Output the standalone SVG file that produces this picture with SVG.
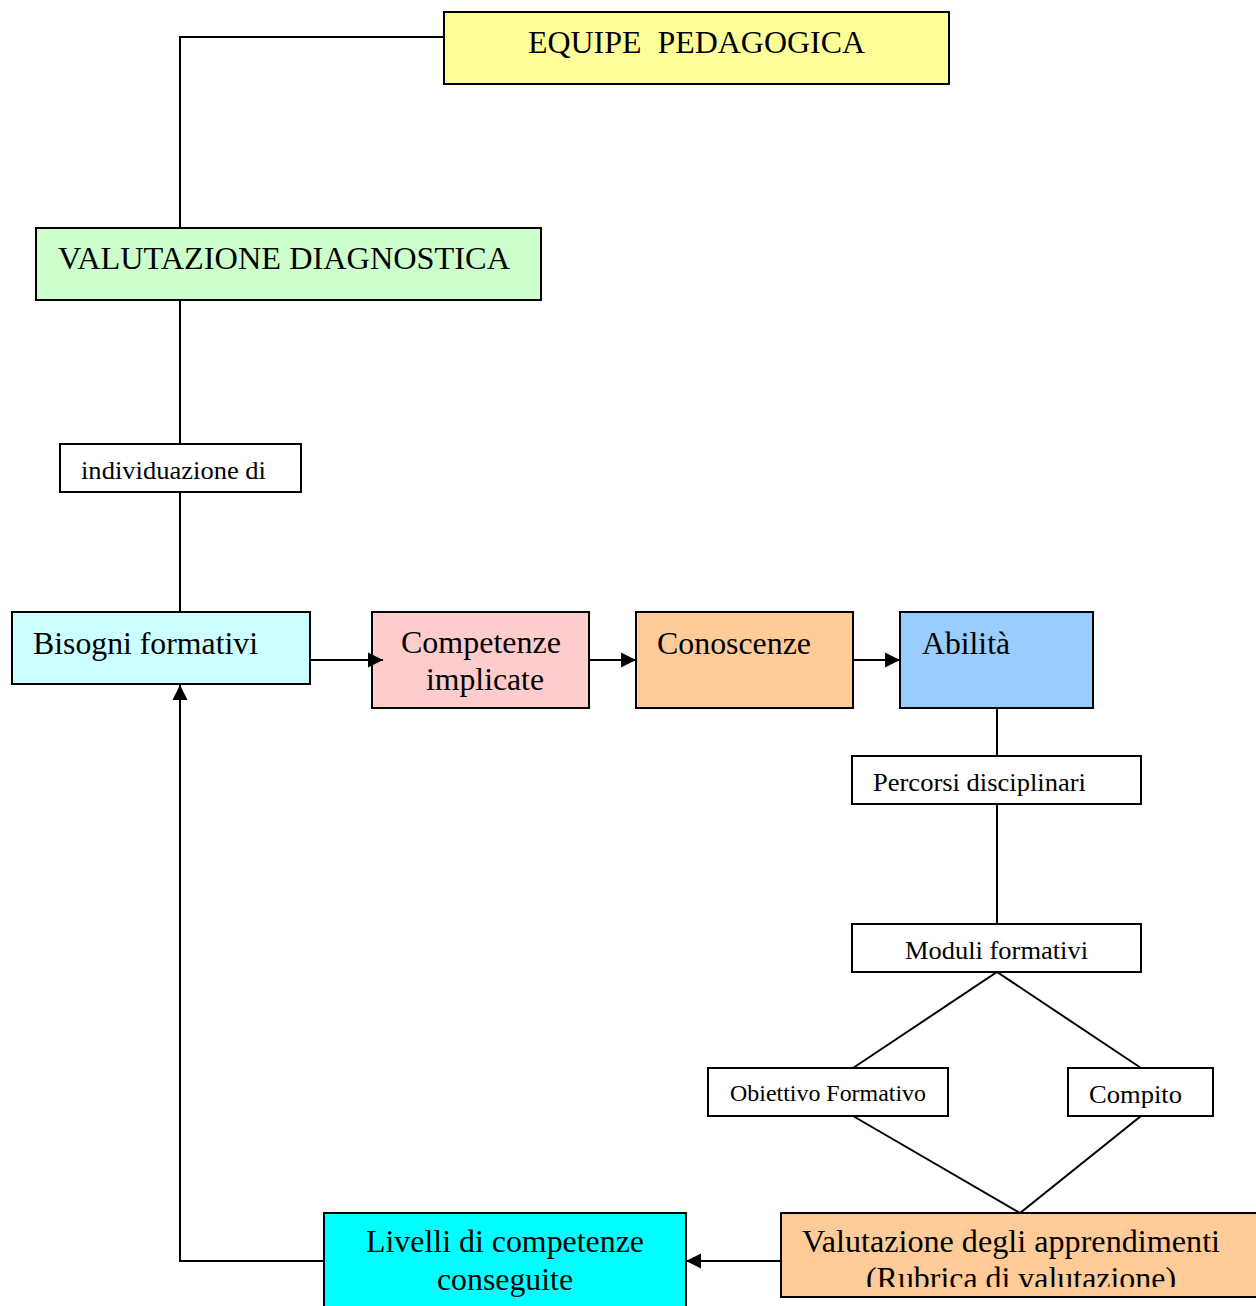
<svg xmlns="http://www.w3.org/2000/svg" width="1256" height="1306" viewBox="0 0 1256 1306">
<style>
.box{stroke:#000;stroke-width:2}
.w{fill:#fff}
.t{font-family:"Liberation Serif","Times New Roman",serif;fill:#000;white-space:pre}
.big{font-size:32px}
.sm{font-size:26px}
.xs{font-size:24px}
.c{fill:none;stroke:#000;stroke-width:2}
</style>
<defs>
<marker id="ah" markerWidth="16" markerHeight="16" refX="15" refY="8" orient="auto" markerUnits="userSpaceOnUse">
<path d="M0,0.5 L15,8 L0,15.5 Z" fill="#000"/>
</marker>
<clipPath id="clipR"><rect x="781" y="1213" width="480" height="74"/></clipPath>
</defs>
<rect width="1256" height="1306" fill="#fff"/>
<g id="equipe">
<rect class="box" x="444" y="12" width="505" height="72" fill="#ffff99"/>
<text class="t big" x="528" y="53" textLength="337" lengthAdjust="spacingAndGlyphs" xml:space="preserve">EQUIPE  PEDAGOGICA</text>
</g>
<g id="valutazione-diagnostica">
<rect class="box" x="36" y="228" width="505" height="72" fill="#ccffcc"/>
<text class="t big" x="58" y="269" textLength="452" lengthAdjust="spacingAndGlyphs">VALUTAZIONE DIAGNOSTICA</text>
</g>
<g id="individuazione">
<rect class="box w" x="60" y="444" width="241" height="48"/>
<text class="t sm" x="81" y="479" textLength="185" lengthAdjust="spacingAndGlyphs">individuazione di</text>
</g>
<g id="bisogni">
<rect class="box" x="12" y="612" width="298" height="72" fill="#ccffff"/>
<text class="t big" x="33" y="654" textLength="225" lengthAdjust="spacingAndGlyphs">Bisogni formativi</text>
</g>
<g id="competenze">
<rect class="box" x="372" y="612" width="217" height="96" fill="#ffcccc"/>
<text class="t big" x="401" y="653" textLength="160" lengthAdjust="spacingAndGlyphs">Competenze</text>
<text class="t big" x="426" y="690" textLength="118" lengthAdjust="spacingAndGlyphs">implicate</text>
</g>
<g id="conoscenze">
<rect class="box" x="636" y="612" width="217" height="96" fill="#ffcc99"/>
<text class="t big" x="657" y="654" textLength="154" lengthAdjust="spacingAndGlyphs">Conoscenze</text>
</g>
<g id="abilita">
<rect class="box" x="900" y="612" width="193" height="96" fill="#99ccff"/>
<text class="t big" x="922" y="654" textLength="88" lengthAdjust="spacingAndGlyphs">Abilità</text>
</g>
<g id="percorsi">
<rect class="box w" x="852" y="756" width="289" height="48"/>
<text class="t sm" x="873" y="791" textLength="213" lengthAdjust="spacingAndGlyphs">Percorsi disciplinari</text>
</g>
<g id="moduli">
<rect class="box w" x="852" y="924" width="289" height="48"/>
<text class="t sm" x="905" y="959" textLength="183" lengthAdjust="spacingAndGlyphs">Moduli formativi</text>
</g>
<g id="obiettivo">
<rect class="box w" x="708" y="1068" width="240" height="48"/>
<text class="t xs" x="730" y="1101" textLength="196" lengthAdjust="spacingAndGlyphs">Obiettivo Formativo</text>
</g>
<g id="compito">
<rect class="box w" x="1068" y="1068" width="145" height="48"/>
<text class="t sm" x="1089" y="1103" textLength="93" lengthAdjust="spacingAndGlyphs">Compito</text>
</g>
<g id="valutazione-apprendimenti">
<rect class="box" x="781" y="1213" width="482" height="84" fill="#ffcc99"/>
<text class="t big" x="802" y="1252" textLength="418" lengthAdjust="spacingAndGlyphs">Valutazione degli apprendimenti</text>
<text class="t big" x="866" y="1289" textLength="310" lengthAdjust="spacingAndGlyphs" clip-path="url(#clipR)">(Rubrica di valutazione)</text>
</g>
<g id="livelli">
<rect class="box" x="324" y="1213" width="362" height="100" fill="#00ffff"/>
<text class="t big" x="366" y="1252" textLength="278" lengthAdjust="spacingAndGlyphs">Livelli di competenze</text>
<text class="t big" x="437" y="1290" textLength="136" lengthAdjust="spacingAndGlyphs">conseguite</text>
</g>
<g id="connectors">
<polyline class="c" points="444,37 180,37 180,228"/>
<line class="c" x1="180" y1="300" x2="180" y2="444"/>
<line class="c" x1="180" y1="492" x2="180" y2="612"/>
<line class="c" x1="310" y1="660" x2="383" y2="660" marker-end="url(#ah)"/>
<line class="c" x1="589" y1="660" x2="636" y2="660" marker-end="url(#ah)"/>
<line class="c" x1="853" y1="660" x2="900" y2="660" marker-end="url(#ah)"/>
<line class="c" x1="997" y1="708" x2="997" y2="756"/>
<line class="c" x1="997" y1="804" x2="997" y2="924"/>
<polyline class="c" points="853,1068 997,972 1141,1068"/>
<polyline class="c" points="853,1116 1020,1213 1141,1116"/>
<line class="c" x1="781" y1="1261" x2="686" y2="1261" marker-end="url(#ah)"/>
<polyline class="c" points="324,1261 180,1261 180,685" marker-end="url(#ah)"/>
</g>
</svg>
